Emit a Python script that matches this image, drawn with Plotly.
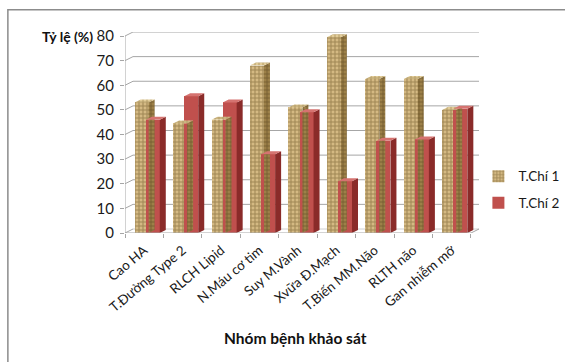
import plotly.graph_objects as go

categories = ["Cao HA", "T.Đường Type 2", "RLCH Lipid", "N.Máu cơ tim", "Suy M.Vành",
              "Xvữa Đ.Mạch", "T.Biến MM.Não", "RLTH não", "Gan nhiễm mỡ"]
series_names = ["T.Chí 1", "T.Chí 2"]
tchi1 = [53, 44.5, 46, 68, 51, 79.5, 62.5, 62.5, 50]
tchi2 = [46, 55.5, 53, 32, 49, 21, 37.5, 38, 50.5]
y_ticks = [0, 10, 20, 30, 40, 50, 60, 70, 80]

W, H = 565, 362
L, T, B = 125, 32, 129
n = len(categories)
cat_px = 38.4
ppu = 2.46                      # pixels per value unit
dxw, dyw = 8 / cat_px, 4 / ppu  # back wall depth
dxb, dyb = 6 / cat_px, 3 / ppu  # bar depth
bw = 14 / cat_px
offs = [-0.25, 0.04]

xr = [-0.5, n - 0.5 + dxw]
yr = [0, 80 + dyw]
plot_w = (xr[1] - xr[0]) * cat_px
plot_h = (yr[1] - yr[0]) * ppu
R = W - L - plot_w


def px(x):
    return (x - L) / plot_w


def py(y):
    return (H - B - y) / plot_h


grid = "#a6a6a6"
fig = go.Figure()

styles = [
    dict(front="#d4b983", side="#9c8048", top="#e2cc98", fg="#6b5226", shape="+"),
    dict(front="#c0504d", side="#8a2b29", top="#d57370", fg=None, shape=""),
]

for s, (name, vals) in enumerate(zip(series_names, [tchi1, tchi2])):
    st = styles[s]
    pat = dict(shape=st["shape"], fgcolor=st["fg"], bgcolor=st["front"], size=4, solidity=0.45) if st["shape"] else None
    fig.add_trace(go.Bar(
        x=list(range(n)), y=vals, width=bw, offset=offs[s], name=name,
        marker=dict(color=st["front"], line=dict(width=0), pattern=pat),
        legendgroup=name, showlegend=True,
    ))
    sx, sy, tx, ty = [], [], [], []
    for i, v in enumerate(vals):
        x1 = i + offs[s] + bw
        x0 = i + offs[s]
        sx += [x1, x1 + dxb, x1 + dxb, x1, x1, None]
        sy += [0, dyb, v + dyb, v, 0, None]
        tx += [x0, x0 + dxb, x1 + dxb, x1, x0, None]
        ty += [v, v + dyb, v + dyb, v, v, None]
    side_kw = dict(fillpattern=dict(shape="+", fgcolor="#4e3b17", bgcolor=st["side"], size=4, solidity=0.4)) if st["shape"] else {}
    fig.add_trace(go.Scatter(x=sx, y=sy, fill="toself", fillcolor=st["side"], mode="lines",
                             line=dict(width=0, color=st["side"]), showlegend=False, hoverinfo="skip", **side_kw))
    top_kw = dict(fillpattern=dict(shape="+", fgcolor="#7d6431", bgcolor=st["top"], size=4, solidity=0.4)) if st["shape"] else {}
    fig.add_trace(go.Scatter(x=tx, y=ty, fill="toself", fillcolor=st["top"], mode="lines",
                             line=dict(width=0, color=st["top"]), showlegend=False, hoverinfo="skip", **top_kw))

shapes = []
for v in y_ticks:
    shapes.append(dict(type="line", xref="x", yref="y", x0=-0.5, y0=v, x1=-0.5 + dxw, y1=v + dyw,
                       line=dict(color=grid, width=1), layer="below"))
    if v > 0:
        shapes.append(dict(type="line", xref="x", yref="y", x0=-0.5 + dxw, y0=v + dyw, x1=n - 0.5 + dxw, y1=v + dyw,
                           line=dict(color=grid, width=1), layer="below"))
# floor
shapes.append(dict(type="line", xref="x", yref="y", x0=-0.5 + dxw, y0=dyw, x1=n - 0.5 + dxw, y1=dyw,
                   line=dict(color="#d0d0d0", width=1), layer="below"))
shapes.append(dict(type="line", xref="x", yref="y", x0=-0.5, y0=0, x1=n - 0.5, y1=0,
                   line=dict(color=grid, width=1), layer="above"))
shapes.append(dict(type="line", xref="x", yref="y", x0=n - 0.5, y0=0, x1=n - 0.5 + dxw, y1=dyw,
                   line=dict(color=grid, width=1), layer="above"))
# y axis line
shapes.append(dict(type="line", xref="x", yref="y", x0=-0.5, y0=0, x1=-0.5, y1=80,
                   line=dict(color=grid, width=1), layer="above"))
# outer border
shapes.append(dict(type="rect", xref="paper", yref="paper", x0=px(8), y0=py(420), x1=px(640), y1=py(10),
                   line=dict(color="#8c8c8c", width=1.5), fillcolor="rgba(0,0,0,0)"))

fig.update_layout(
    width=W, height=H, margin=dict(l=L, r=R, t=T, b=B, autoexpand=False),
    paper_bgcolor="white", plot_bgcolor="white",
    barmode="overlay", bargap=0,
    font=dict(family="Lato, Carlito, sans-serif", color="#222"),
    shapes=shapes,
    xaxis=dict(range=xr, tickvals=list(range(n)), ticktext=categories, tickangle=-40,
               showgrid=False, zeroline=False, showline=False, ticks="", ticklabelstandoff=6,
               tickfont=dict(size=13.5, color="#1a1a1a"), automargin=False,
               minor=dict(tickvals=[i - 0.5 for i in range(n + 1)], ticks="outside", ticklen=4,
                          tickcolor=grid, showgrid=False)),
    yaxis=dict(range=yr, tickvals=y_ticks, showgrid=False, zeroline=False, showline=False, automargin=False,
               ticks="outside", ticklen=4, tickcolor=grid, ticklabelstandoff=3,
               tickfont=dict(size=15, color="#1a1a1a")),
    legend=dict(x=px(478), y=py(161), xanchor="left", yanchor="top", tracegroupgap=6,
                itemwidth=30, font=dict(size=13.5, color="#1a1a1a"), bgcolor="rgba(0,0,0,0)"),
    annotations=[
        dict(text="<b>Tỷ lệ (%)</b>", xref="paper", yref="paper", x=px(95), y=py(37),
             xanchor="right", yanchor="middle", showarrow=False, font=dict(size=14, color="#111")),
        dict(text="<b>Nhóm bệnh khảo sát</b>", xref="paper", yref="paper", x=px(295), y=py(338),
             xanchor="center", yanchor="middle", showarrow=False, font=dict(size=15.5, color="#111")),
    ],
)

fig.write_html("out.html")
